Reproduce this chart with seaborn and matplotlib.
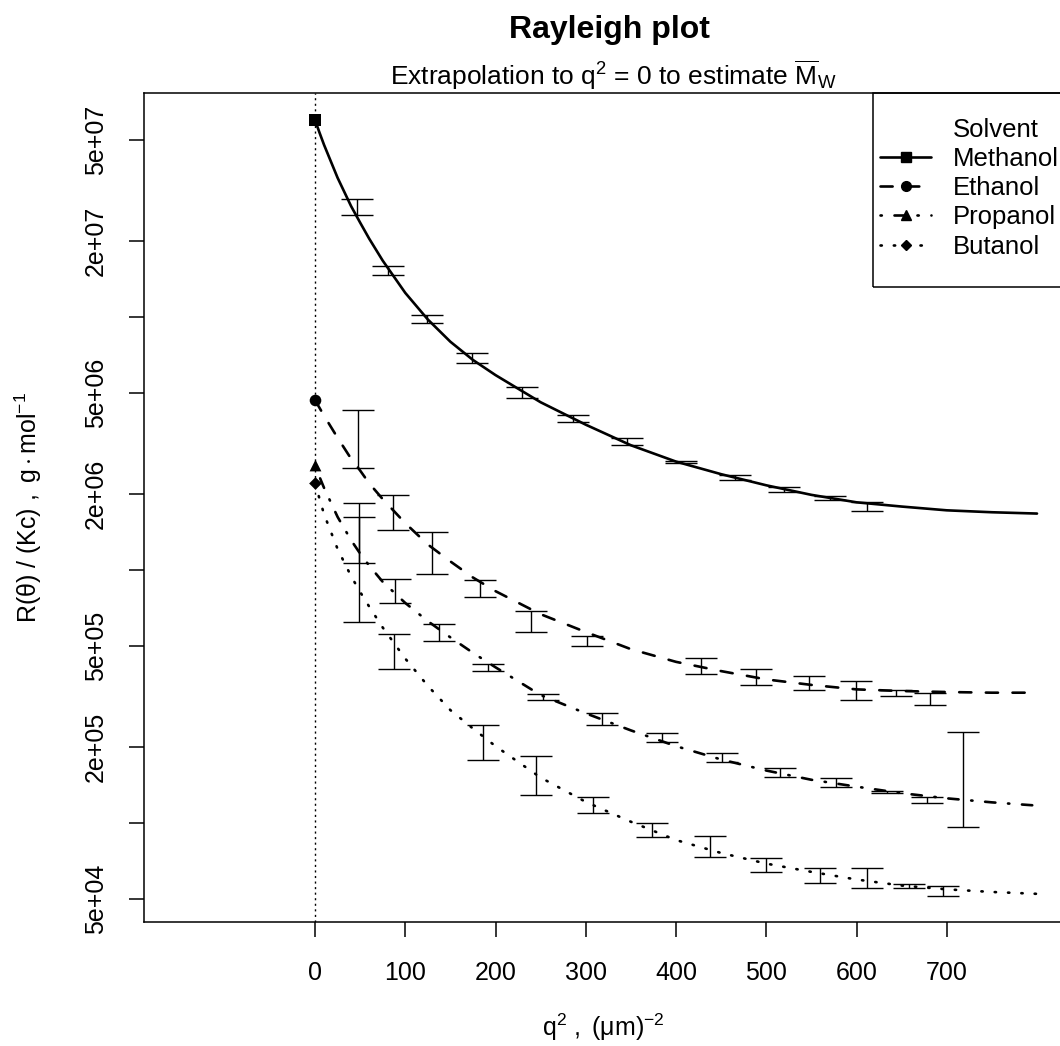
import numpy as np
import pandas as pd
import matplotlib
matplotlib.use("Agg")
import matplotlib.pyplot as plt
from matplotlib.lines import Line2D
from matplotlib.patches import Rectangle
import seaborn as sns

# ---------------- data ----------------
solvents = ["Methanol", "Ethanol", "Propanol", "Butanol"]

# fitted curves
q2_fit = [0, 5, 10, 25, 40, 50, 60, 75, 100, 125, 150, 175, 200, 250, 300, 350, 400,
          450, 500, 550, 600, 650, 700, 750, 800]
methanol_fit = [6.00e7, 5.35e7, 4.79e7, 3.55e7, 2.74e7, 2.36e7, 2.04e7, 1.67e7, 1.245e7,
                9.77e6, 7.98e6, 6.76e6, 5.89e6, 4.60e6, 3.75e6, 3.11e6, 2.68e6, 2.39e6,
                2.16e6, 1.98e6, 1.85e6, 1.78e6, 1.72e6, 1.69e6, 1.67e6]
ethanol_fit = [4.69e6, 4.37e6, 4.07e6, 3.33e6, 2.75e6, 2.47e6, 2.20e6, 1.905e6, 1.53e6,
               1.26e6, 1.08e6, 9.33e5, 8.24e5, 6.68e5, 5.68e5, 4.86e5, 4.33e5, 3.98e5,
               3.69e5, 3.51e5, 3.37e5, 3.32e5, 3.29e5, 3.27e5, 3.27e5]
propanol_fit = [2.59e6, 2.33e6, 2.11e6, 1.62e6, 1.31e6, 1.16e6, 1.04e6, 8.97e5, 7.40e5,
                6.27e5, 5.41e5, 4.70e5, 4.12e5, 3.20e5, 2.71e5, 2.32e5, 2.01e5, 1.78e5,
                1.61e5, 1.48e5, 1.39e5, 1.31e5, 1.25e5, 1.205e5, 1.17e5]
butanol_fit = [2.20e6, 1.91e6, 1.66e6, 1.21e6, 9.44e5, 8.18e5, 7.16e5, 5.92e5, 4.46e5,
               3.48e5, 2.79e5, 2.36e5, 2.01e5, 1.51e5, 1.21e5, 1.01e5, 8.55e4, 7.60e4,
               6.90e4, 6.40e4, 5.97e4, 5.65e4, 5.46e4, 5.33e4, 5.24e4]

# intercepts (q2 = 0)
intercept_q2 = [0, 0, 0, 0]
intercept_val = [6.00e7, 4.69e6, 2.59e6, 2.20e6]

# error bars (upper / lower)
meth_q2 = [46, 81, 124, 174, 229, 286, 346, 406, 465, 520, 571, 612]
meth_hi = [2.92e7, 1.59e7, 1.02e7, 7.19e6, 5.30e6, 4.09e6, 3.31e6, 2.70e6, 2.37e6, 2.12e6, 1.96e6, 1.86e6]
meth_lo = [2.52e7, 1.47e7, 9.49e6, 6.57e6, 4.77e6, 3.85e6, 3.11e6, 2.64e6, 2.26e6, 2.04e6, 1.89e6, 1.71e6]

eth_q2 = [48, 86, 130, 183, 239, 301, 428, 489, 547, 599, 644, 681]
eth_hi = [4.28e6, 1.98e6, 1.41e6, 9.12e5, 6.90e5, 5.49e5, 4.50e5, 4.05e5, 3.80e5, 3.64e5, 3.35e5, 3.25e5]
eth_lo = [2.52e6, 1.44e6, 9.59e5, 7.80e5, 5.66e5, 5.00e5, 3.87e5, 3.51e5, 3.35e5, 3.06e5, 3.17e5, 2.92e5]

prop_q2 = [49, 89, 137, 192, 253, 318, 384, 451, 515, 577, 634, 678, 718]
prop_hi = [1.62e6, 9.18e5, 6.09e5, 4.25e5, 3.22e5, 2.71e5, 2.26e5, 1.88e5, 1.64e5, 1.50e5, 1.34e5, 1.27e5, 2.29e5]
prop_lo = [1.06e6, 7.42e5, 5.23e5, 3.97e5, 3.06e5, 2.44e5, 2.09e5, 1.74e5, 1.52e5, 1.39e5, 1.31e5, 1.20e5, 9.66e4]

but_q2 = [49, 87, 186, 245, 308, 373, 438, 500, 560, 612, 658, 696]
but_hi = [1.84e6, 5.56e5, 2.44e5, 1.83e5, 1.27e5, 9.96e4, 8.90e4, 7.24e4, 6.61e4, 6.61e4, 5.72e4, 5.64e4]
but_lo = [6.22e5, 4.05e5, 1.77e5, 1.29e5, 1.09e5, 8.79e4, 7.31e4, 6.38e4, 5.80e4, 5.51e4, 5.54e4, 5.15e4]

x_ticks = [0, 100, 200, 300, 400, 500, 600, 700]
y_ticks = [5e7, 2e7, 1e7, 5e6, 2e6, 1e6, 5e5, 2e5, 1e5, 5e4]
y_ticklabels = ["5e+07", "2e+07", "", "5e+06", "2e+06", "", "5e+05", "2e+05", "", "5e+04"]

# ---------------- style ----------------
sns.set_theme(style="ticks")
plt.rcParams["font.family"] = ["Liberation Sans", "DejaVu Sans"]
plt.rcParams["mathtext.fontset"] = "custom"
plt.rcParams["mathtext.rm"] = "Liberation Sans"
plt.rcParams["mathtext.it"] = "Liberation Sans:italic"
plt.rcParams["mathtext.bf"] = "Liberation Sans:bold"
plt.rcParams["axes.linewidth"] = 1.1
plt.rcParams["axes.edgecolor"] = "black"

W, H = 1060, 1046
fig = plt.figure(figsize=(W / 100, H / 100), dpi=100)
ax_l, ax_r, ax_t, ax_b = 144, 1063, 93, 922
ax = fig.add_axes([ax_l / W, (H - ax_b) / H, (ax_r - ax_l) / W, (ax_b - ax_t) / H])
ax.set_yscale("log")

lw = 1.9
dash_map = {
    "Methanol": "",
    "Ethanol": (4.6, 5.5),
    "Propanol": (0.5, 4.8, 3.9, 4.8),
    "Butanol": (0.5, 4.55),
}
marker_map = {"Methanol": "s", "Ethanol": "o", "Propanol": "^", "Butanol": "D"}
marker_area = {"Methanol": 64, "Ethanol": 70, "Propanol": 72, "Butanol": 42}
legend_msize = {"Methanol": 7, "Ethanol": 7, "Propanol": 7.5, "Butanol": 5.5}

curves = pd.DataFrame({
    "q2": q2_fit * 4,
    "R": methanol_fit + ethanol_fit + propanol_fit + butanol_fit,
    "Solvent": sum([[s] * len(q2_fit) for s in solvents], []),
})
sns.lineplot(data=curves, x="q2", y="R", style="Solvent", style_order=solvents,
             dashes=dash_map, color="black", linewidth=lw, legend=False,
             estimator=None, ax=ax, dash_capstyle="round", solid_capstyle="round")

pts = pd.DataFrame({"q2": intercept_q2, "R": intercept_val, "Solvent": solvents})
for s in solvents:
    sns.scatterplot(data=pts[pts["Solvent"] == s], x="q2", y="R",
                    marker=marker_map[s], color="black", s=marker_area[s],
                    edgecolor="black", linewidth=0, legend=False, ax=ax, zorder=5)

for xs, hi, lo in [(meth_q2, meth_hi, meth_lo), (eth_q2, eth_hi, eth_lo),
                   (prop_q2, prop_hi, prop_lo), (but_q2, but_hi, but_lo)]:
    lo_a = np.array(lo)
    hi_a = np.array(hi)
    ax.errorbar(xs, lo_a, yerr=[np.zeros_like(lo_a), hi_a - lo_a], fmt="none",
                ecolor="black", elinewidth=1.0, capsize=11.8, capthick=1.0)

ax.axvline(0, color="black", lw=1.0, linestyle=(0, (1.5, 2.5)))

ax.set_xlim(-189.5, 828.8)
ax.set_ylim(4.055e4, 7.68e7)
ax.set_xticks(x_ticks)
ax.set_xticklabels([str(v) for v in x_ticks])
ax.set_yticks(y_ticks)
ax.set_yticklabels(y_ticklabels, rotation=90, va="center")
ax.yaxis.set_minor_locator(matplotlib.ticker.NullLocator())
ax.tick_params(axis="both", which="major", length=11, width=1.1, color="black",
               labelsize=18, labelcolor="black")
ax.tick_params(axis="x", pad=17)
ax.tick_params(axis="y", pad=15)
ax.set_xlabel("")
ax.set_ylabel("")
for sp in ax.spines.values():
    sp.set_visible(True)
    sp.set_color("black")

# titles & labels
cx = (ax_l + ax_r) / 2 / W
fig.text(609 / W, 1 - 30 / H, "Rayleigh plot", ha="center", va="center",
         fontsize=23, fontweight="bold", color="black")
fig.text(613 / W, 1 - 75 / H,
         r"Extrapolation to $\mathrm{q^2}$ = 0 to estimate $\overline{\mathrm{M}}_{\mathrm{W}}$",
         ha="center", va="center", fontsize=19, color="black")
fig.text(cx, 1 - 1036 / H, r"$\mathrm{q^2\ ,\ (\mu m)^{-2}}$", ha="center",
         va="baseline", fontsize=18, color="black")
fig.text(28 / W, (H - (ax_t + ax_b) / 2) / H,
         r"$\mathrm{R(\theta)\ /\ (Kc)\ ,\ g\cdot mol^{-1}}$", ha="center", va="center",
         rotation=90, fontsize=18, color="black")

# legend
ax_w, ax_h = ax_r - ax_l, ax_b - ax_t
y0 = (ax_b - 287) / ax_h
ax.add_patch(Rectangle(((873 - ax_l) / ax_w, y0), 1.0, 1.0 - y0,
                       transform=ax.transAxes, fill=False, edgecolor="black",
                       lw=1.1, clip_on=False, zorder=6))
handles = [Line2D([], [], color="none")]
labels = ["Solvent"]
for s in solvents:
    ls = "-" if dash_map[s] == "" else (0, dash_map[s])
    handles.append(Line2D([], [], color="black", lw=lw, linestyle=ls,
                          marker=marker_map[s], markersize=legend_msize[s],
                          dash_capstyle="round"))
    labels.append(s)
leg = ax.legend(handles, labels, loc="upper left",
                bbox_to_anchor=((880 - ax_l) / ax_w, (ax_b - 118) / ax_h),
                frameon=False, fontsize=18.5, handlelength=2.0, handletextpad=0.85,
                borderpad=0, borderaxespad=0, labelspacing=0.2)
for t in leg.get_texts():
    t.set_color("black")

fig.savefig("out.png", dpi=100)
